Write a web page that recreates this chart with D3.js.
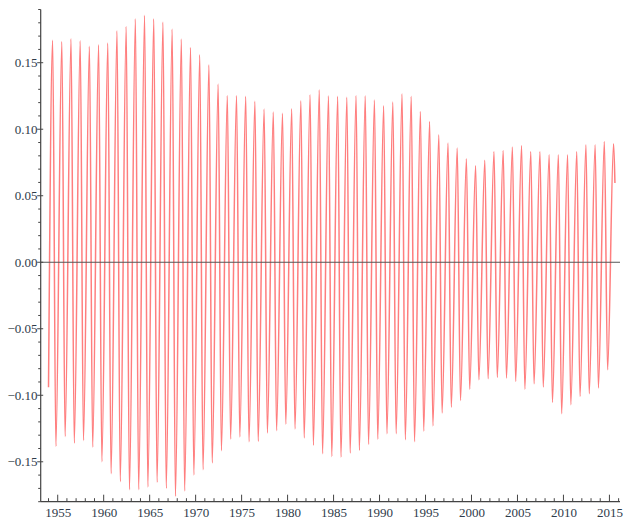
<!DOCTYPE html>
<html>
<head>
<meta charset="utf-8">
<script src="https://cdn.jsdelivr.net/npm/d3@7"></script>
<style>
  html, body { margin: 0; padding: 0; background: #fff; }
  svg { display: block; }
  .tick-label { font-family: "Liberation Serif", "Times New Roman", Times, serif; font-size: 13px; fill: #2f3b4a; }
</style>
</head>
<body>
<svg id="chart" width="624" height="525"></svg>
<script>
// ---- data ----
const startYear = 1954;
const startPoint = [1954.0, -0.094];
const endPoint = [2015.6, 0.0595];
const peakPhase = 0.45;
const troughPhase = 0.8;
// yearly maxima, 1954..2015
const peaks = [
  0.1668,0.166,0.168,0.1665,0.1623,0.1635,0.1648,0.174,0.1773,0.183,
  0.1856,0.183,0.1806,0.1753,0.1678,0.1615,0.156,0.1485,0.134,0.1254,
  0.1254,0.1247,0.121,0.1152,0.113,0.112,0.1154,0.1214,0.126,0.1297,
  0.1252,0.1247,0.124,0.1254,0.1252,0.122,0.1177,0.1205,0.1266,0.1247,
  0.1134,0.1059,0.0959,0.0896,0.0858,0.0778,0.0726,0.0766,0.0833,0.0841,
  0.0866,0.0878,0.0833,0.0833,0.0808,0.0808,0.0808,0.0833,0.0883,0.0883,
  0.0908,0.0891
];
// yearly minima, 1954..2014
const troughs = [
  -0.1385,-0.131,-0.136,-0.134,-0.139,-0.15,-0.159,-0.165,-0.171,-0.171,
  -0.169,-0.1655,-0.170,-0.176,-0.172,-0.160,-0.156,-0.151,-0.1417,-0.133,
  -0.1314,-0.135,-0.1347,-0.1284,-0.1267,-0.1217,-0.1254,-0.1322,-0.1377,-0.144,
  -0.146,-0.1465,-0.1435,-0.1415,-0.137,-0.133,-0.129,-0.129,-0.1335,-0.135,
  -0.127,-0.123,-0.1134,-0.109,-0.104,-0.0954,-0.0883,-0.0876,-0.0866,-0.0871,
  -0.0896,-0.0954,-0.0914,-0.0938,-0.1054,-0.1139,-0.1071,-0.1009,-0.0989,-0.0946,
  -0.0808
];
const xMajorTicks = [1955,1960,1965,1970,1975,1980,1985,1990,1995,2000,2005,2010,2015];
const yMajorTicks = [-0.15,-0.10,-0.05,0.00,0.05,0.10,0.15];
const xDomain = [1953.15, 2016.15];
const yDomain = [-0.18, 0.19];

// ---- build series ----
const series = [startPoint];
peaks.forEach((p, i) => {
  const yr = startYear + i;
  series.push([yr + peakPhase, p]);
  if (i < troughs.length) series.push([yr + troughPhase, troughs[i]]);
});
series.push(endPoint);

// ---- scales ----
const svg = d3.select("#chart");
const x = d3.scaleLinear().domain(xDomain).range([40.7, 620]);
const y = d3.scaleLinear().domain(yDomain).range([501.7, 9.5]);

// ---- series line ----
const line = d3.line().x(d => x(d[0])).y(d => y(d[1])).curve(d3.curveMonotoneX);
svg.append("path")
  .datum(series)
  .attr("fill", "none")
  .attr("stroke", "rgb(255,40,40)")
  .attr("stroke-opacity", 0.6)
  .attr("stroke-width", 1.5)
  .attr("d", line);

// ---- zero line ----
svg.append("line")
  .attr("x1", x(xDomain[0])).attr("x2", x(xDomain[1]))
  .attr("y1", y(0)).attr("y2", y(0))
  .attr("stroke", "#555").attr("stroke-width", 1);

const axisColor = "#444";

// ---- left axis ----
svg.append("line")
  .attr("x1", x(xDomain[0])).attr("x2", x(xDomain[0]))
  .attr("y1", y(yDomain[0])).attr("y2", y(yDomain[1]))
  .attr("stroke", axisColor).attr("stroke-width", 1.2);

const yMinor = d3.range(-18, 20).map(v => v / 100).filter(v => Math.abs(Math.round(v * 100) % 5) !== 0);
svg.selectAll(".yminor").data(yMinor).enter().append("line")
  .attr("x1", x(xDomain[0]) - 2.5).attr("x2", x(xDomain[0]))
  .attr("y1", d => y(d)).attr("y2", d => y(d))
  .attr("stroke", axisColor).attr("stroke-width", 1);
svg.selectAll(".ymajor").data(yMajorTicks).enter().append("line")
  .attr("x1", x(xDomain[0]) - 3.5).attr("x2", x(xDomain[0]) + 2.5)
  .attr("y1", d => y(d)).attr("y2", d => y(d))
  .attr("stroke", axisColor).attr("stroke-width", 1);
svg.selectAll(".ylabel").data(yMajorTicks).enter().append("text")
  .attr("class", "tick-label")
  .attr("x", 37.5).attr("y", d => y(d))
  .attr("dy", "0.35em")
  .attr("text-anchor", "end")
  .text(d => d3.format(".2f")(d));

// ---- bottom axis ----
svg.append("line")
  .attr("x1", x(xDomain[0])).attr("x2", x(xDomain[1]))
  .attr("y1", y(yDomain[0])).attr("y2", y(yDomain[0]))
  .attr("stroke", axisColor).attr("stroke-width", 1.2);
const xMinor = d3.range(1954, 2017).filter(v => v % 5 !== 0);
svg.selectAll(".xminor").data(xMinor).enter().append("line")
  .attr("x1", d => x(d)).attr("x2", d => x(d))
  .attr("y1", y(yDomain[0])).attr("y2", y(yDomain[0]) - 3.5)
  .attr("stroke", axisColor).attr("stroke-width", 1);
svg.selectAll(".xmajor").data(xMajorTicks).enter().append("line")
  .attr("x1", d => x(d)).attr("x2", d => x(d))
  .attr("y1", y(yDomain[0])).attr("y2", y(yDomain[0]) - 7)
  .attr("stroke", axisColor).attr("stroke-width", 1);
svg.selectAll(".xlabel").data(xMajorTicks).enter().append("text")
  .attr("class", "tick-label")
  .attr("x", d => x(d) + 0.5).attr("y", 517)
  .attr("text-anchor", "middle")
  .text(d => d);
</script>
</body>
</html>
